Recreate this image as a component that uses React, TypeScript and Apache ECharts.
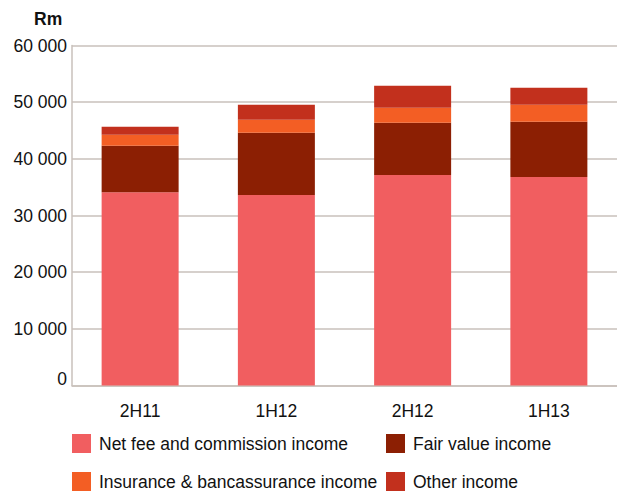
import React, { useEffect, useRef } from "react";
import * as echarts from "echarts";

const categories = ["2H11", "1H12", "2H12", "1H13"];
const netFee = [34100, 33600, 37150, 36800];
const fairValue = [8200, 11000, 9200, 9750];
const insurance = [1950, 2300, 2650, 3000];
const other = [1400, 2650, 3900, 3000];
const seriesNames = [
  "Net fee and commission income",
  "Fair value income",
  "Insurance & bancassurance income",
  "Other income",
];
const colors = ["#F15E60", "#8C1F03", "#F35E24", "#C2301D"];

const FONT = "'Liberation Sans', Arial, Helvetica, sans-serif";

export default function App() {
  const ref = useRef<HTMLDivElement>(null);
  useEffect(() => {
    document.body.style.margin = "0";
    const chart = echarts.init(ref.current!, null, { renderer: "svg" });
    const values = [netFee, fairValue, insurance, other];
    chart.setOption({
      animation: false,
      textStyle: { fontFamily: FONT },
      graphic: [
        {
          type: "text",
          left: 34,
          top: 10,
          style: { text: "Rm", font: `bold 17.5px ${FONT}`, fill: "#111" },
        },
      ],
      grid: { left: 72, right: -3, top: 45.5, bottom: 106.5, containLabel: false },
      xAxis: {
        type: "category",
        data: categories,
        axisLine: { show: true, lineStyle: { color: "#c9c1bb", width: 1.5 } },
        axisTick: { show: false },
        axisLabel: { color: "#111", fontSize: 17.5, fontFamily: FONT, margin: 16 },
      },
      yAxis: {
        type: "value",
        min: 0,
        max: 60000,
        interval: 10000,
        axisLine: { show: true, lineStyle: { color: "#c9c1bb", width: 1.5 } },
        axisTick: { show: false },
        splitLine: { show: true, lineStyle: { color: "#c9c1bb", width: 1.5 } },
        axisLabel: {
          color: "#111",
          fontSize: 17.5,
          fontFamily: FONT,
          margin: 5,
          formatter: (v: number) =>
            v === 0
              ? "{z|0}"
              : String(v).replace(/\B(?=(\d{3})+(?!\d))/g, " "),
          rich: {
            z: { fontSize: 17.5, fontFamily: FONT, color: "#111", padding: [0, 0, 13, 0] },
          },
        },
      },
      legend: [
        {
          left: 72,
          top: 434,
          orient: "vertical",
          itemWidth: 19,
          itemHeight: 19,
          itemGap: 19,
          icon: "rect",
          data: [seriesNames[0], seriesNames[2]],
          textStyle: { color: "#111", fontSize: 17.5, fontFamily: FONT, padding: [0, 0, 0, 3] },
          padding: 0,
        },
        {
          left: 386,
          top: 434,
          orient: "vertical",
          itemWidth: 19,
          itemHeight: 19,
          itemGap: 19,
          icon: "rect",
          data: [seriesNames[1], seriesNames[3]],
          textStyle: { color: "#111", fontSize: 17.5, fontFamily: FONT, padding: [0, 0, 0, 3] },
          padding: 0,
        },
      ],
      series: seriesNames.map((name, i) => ({
        name,
        type: "bar",
        stack: "total",
        barWidth: 77,
        data: values[i],
        itemStyle: { color: colors[i] },
      })),
    });
    return () => chart.dispose();
  }, []);
  return <div ref={ref} style={{ width: 617, height: 492 }} />;
}
